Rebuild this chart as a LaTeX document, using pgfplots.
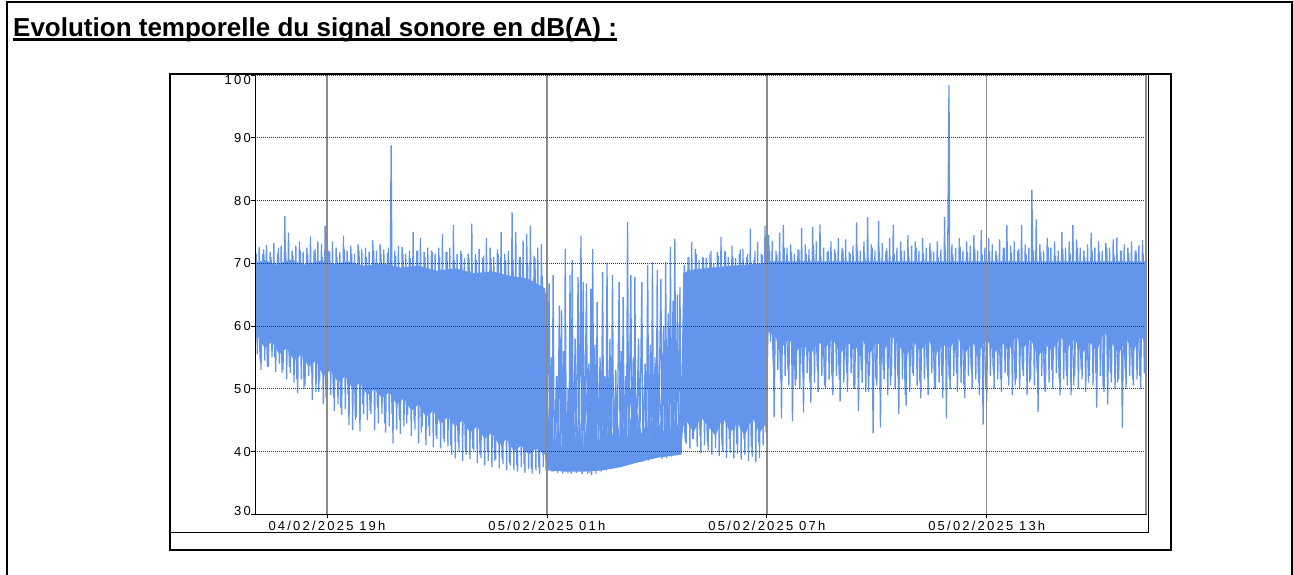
\documentclass[border=0pt]{standalone}
\usepackage{pgfplots}
\pgfplotsset{compat=1.18}
\usepackage{fontspec}
\setmainfont{Liberation Sans}
\newfontfamily\tickfont[LetterSpace=17]{Liberation Sans}
\definecolor{sig}{RGB}{100,149,237}
\definecolor{vgrid}{RGB}{140,140,140}
\begin{document}
\begin{tikzpicture}[x=1pt,y=1pt]
\useasboundingbox (0,0) rectangle (1293,575);
\draw[line width=2pt] (7,-3) -- (7,573) -- (1292,573) -- (1292,-3);
\node[anchor=base west, inner sep=0pt, font=\bfseries\fontsize{26}{30}\selectfont] (T) at (13,538.3) {Evolution temporelle du signal sonore en dB(A) :};
\draw[line width=3pt] ([yshift=-3.3pt]T.base west) -- ([yshift=-3.3pt]T.base east);
\draw[line width=2pt] (170,25) rectangle (1171,501);
\draw[line width=0.9pt] (170,42.7) -- (1148.5,42.7) -- (1148.5,501);
\begin{axis}[
  at={(255pt,60.7pt)}, anchor=south west,
  width=891pt, height=439.3pt, scale only axis,
  xmin=17.036, xmax=41.345, ymin=30, ymax=100,
  axis on top,
  axis line style={black, line width=1pt},
  xtick={19,25,31,37},
  xticklabels={04/02/2025 19h,05/02/2025 01h,05/02/2025 07h,05/02/2025 13h},
  ytick={30,40,50,60,70,80,90,100},
  yticklabels={\raisebox{3.7pt}{30},40,50,60,70,80,90,\raisebox{-5.3pt}{100}},
  /pgf/number format/assume math mode=true,
  tick pos=left, tick align=outside, major tick length=4pt,
  tick style={black, line width=0.8pt},
  xmajorgrids, ymajorgrids,
  x grid style={vgrid, line width=1.4pt},
  y grid style={black!80, line width=0.7pt, dash pattern=on 1pt off 1pt},
  ticklabel style={font=\tickfont\fontsize{13}{15}\selectfont},
  yticklabel style={anchor=east, inner sep=0pt, text height=9.3pt, text depth=0pt},
  xticklabel style={anchor=base, inner sep=0pt, yshift=-12.5pt},
]
% dense core of the signal (upper edge left to right, lower edge right to left)
\addplot[draw=none, fill=sig] coordinates {
(17.036,70)(17.3,70.5)(17.6,69.8)(18,70.5)(18.4,69.8)(18.8,70.4)(19.2,69.9)(19.6,70.3)(20,69.6)(20.5,70)(21,69.3)(21.5,69.6)(22,68.8)(22.5,69.2)(23,68.4)(23.5,68.7)(24,68)(24.5,67.5)(24.95,66)
(25.0,43)(25.1,46)(25.2,41)(25.3,44)(25.4,40.5)(25.5,45)(25.6,42)(25.7,47)(25.8,41.5)(25.9,44.5)(26.0,40.5)(26.1,45.5)(26.2,42)(26.3,46)(26.4,41)(26.5,44)(26.6,40.5)(26.7,45)(26.8,42.5)(26.9,46.5)(27.0,41.5)(27.1,44)(27.2,42)(27.3,46)(27.4,41.5)(27.5,45)(27.6,42.5)(27.7,44.5)(27.8,41.5)(27.9,46)(28.0,42.5)(28.1,45)(28.2,43)(28.3,47)(28.4,42.5)(28.5,45.5)(28.6,43.5)(28.65,44)
(28.72,68.5)(29,69)(29.5,69.3)(30,69.6)(30.5,69.8)(30.98,70)
(31.02,70.3)(41.345,70.3)
(41.345,57)(41.2,58.5)(41.0,56)(40.8,58)(40.6,55.5)(40.4,57.5)(40.2,59)(40.0,56)(39.8,57.5)(39.6,55.5)(39.4,58)(39.2,56.5)(39.0,58.5)(38.8,56)(38.6,57)(38.4,55)(38.2,58)(38.0,56.5)(37.8,58.5)(37.6,56)(37.4,57.5)(37.2,55.5)(37.0,58)(36.8,56)(36.6,57.5)(36.4,55.5)(36.2,58.5)(36.0,56.5)(35.8,57)(35.6,55.5)(35.4,58)(35.2,56)(35.0,57.5)(34.8,55)(34.6,57)(34.4,58.5)(34.2,56)(34.0,57.5)(33.8,55.5)(33.6,58)(33.4,56)(33.2,57.5)(33.0,55.5)(32.8,58)(32.6,56.5)(32.4,57.5)(32.2,55.5)(32.0,57)(31.8,56)(31.6,58)(31.4,56.5)(31.2,58.5)(31.05,59)(31.02,59)
(30.98,44.5)(30.8,43)(30.6,45.5)(30.4,42.5)(30.2,44.5)(30.0,43)(29.8,45.5)(29.6,42.5)(29.4,44)(29.2,45.5)(29.0,43)(28.8,45)(28.72,44)
(28.65,39.5)(28,39)(27.5,38.3)(27,37.5)(26.5,37)(26,36.8)(25.5,36.8)(25.0,37)
(24.95,39.5)(24.7,40.5)(24.5,39.5)(24.3,41)(24.1,40)(23.9,42)(23.7,41)(23.5,43)(23.3,42)(23.1,44)(22.9,43)(22.7,45)(22.5,44)(22.3,45.5)(22.1,44.5)(21.9,46.5)(21.7,45.5)(21.5,47.5)(21.3,46.5)(21.1,48.5)(20.9,47.5)(20.7,49.5)(20.5,48.5)(20.3,50)(20.1,49)(19.9,51)(19.7,50)(19.5,52)(19.3,51)(19.1,53)(18.9,52)(18.7,54.5)(18.5,53.5)(18.3,55.5)(18.1,54.5)(17.9,56.5)(17.7,55.5)(17.5,57.5)(17.3,56.5)(17.1,58.5)(17.036,57.5)
} -- cycle;
% secondary samples
\addplot[sig, line width=1.1pt, line join=bevel, no marks] coordinates {
(17.075,71.5)(17.175,54.5)(17.275,72.2)(17.375,53.5)(17.475,71.0)(17.575,55.0)(17.675,72.5)(17.775,52.5)(17.875,71.8)(17.975,53.5)
(18.075,71.2)(18.175,51.5)(18.275,72.0)(18.375,50.0)(18.475,71.5)(18.575,52.5)(18.675,72.3)(18.775,49.5)(18.875,71.0)(18.975,48.5)
(19.075,71.8)(19.175,48.5)(19.275,71.0)(19.375,47.0)(19.475,72.2)(19.575,49.0)(19.675,71.5)(19.775,45.0)(19.875,72.0)(19.975,47.5)
(20.075,71.0)(20.175,46.5)(20.275,72.0)(20.375,47.0)(20.475,71.5)(20.575,44.5)(20.675,72.5)(20.775,46.0)(20.875,71.2)(20.975,45.0)
(21.075,71.5)(21.175,44.5)(21.275,70.8)(21.375,45.0)(21.475,72.0)(21.575,43.0)(21.675,71.0)(21.775,44.0)(21.875,71.8)(21.975,42.5)
(22.075,71.0)(22.175,42.0)(22.275,71.8)(22.375,41.0)(22.475,70.5)(22.575,41.5)(22.675,71.5)(22.775,40.0)(22.875,70.8)(22.975,40.5)
(23.075,70.5)(23.175,39.5)(23.275,71.2)(23.375,40.0)(23.475,70.8)(23.575,38.5)(23.675,71.5)(23.775,39.0)(23.875,70.5)(23.975,38.2)
(24.075,70.5)(24.175,37.8)(24.275,71.0)(24.375,38.0)(24.475,70.0)(24.575,37.2)(24.675,70.8)(24.775,37.5)(24.875,68.0)(24.975,37.0)
(25.075,48)(25.175,36.8)(25.275,52)(25.375,37.0)(25.475,46)(25.575,36.6)(25.675,50)(25.775,37.2)(25.875,47)(25.975,36.8)
(26.075,49)(26.175,36.6)(26.275,46)(26.375,37.0)(26.475,51)(26.575,37.2)(26.675,47)(26.775,37.4)(26.875,50)(26.975,37.6)
(27.075,47)(27.175,37.8)(27.275,50)(27.375,38.2)(27.475,46)(27.575,38.4)(27.675,52)(27.775,38.6)(27.875,48)(27.975,39.0)
(28.075,49)(28.175,39.2)(28.275,51)(28.375,39.4)(28.475,48)(28.575,39.8)(28.675,52)(28.775,41.5)(28.875,71.0)(28.975,42.0)
(29.075,71.5)(29.175,42.5)(29.275,70.8)(29.375,41.5)(29.475,72.0)(29.575,42.8)(29.675,71.2)(29.775,41.0)(29.875,71.8)(29.975,42.0)
(30.075,71.0)(30.175,41.2)(30.275,72.2)(30.375,42.0)(30.475,71.5)(30.575,40.8)(30.675,72.0)(30.775,41.5)(30.875,71.3)(30.975,43.0)
(31.075,72.0)(31.175,54.0)(31.275,71.5)(31.375,51.5)(31.475,72.5)(31.575,53.0)(31.675,71.8)(31.775,50.5)(31.875,72.2)(31.975,52.5)
(32.075,71.5)(32.175,51.0)(32.275,72.8)(32.375,53.5)(32.475,71.2)(32.575,50.5)(32.675,72.0)(32.775,52.0)(32.875,71.6)(32.975,51.5)
(33.075,72.3)(33.175,52.5)(33.275,71.5)(33.375,50.0)(33.475,72.0)(33.575,53.0)(33.675,71.0)(33.775,49.5)(33.875,72.5)(33.975,51.5)
(34.075,71.8)(34.175,53.0)(34.275,72.4)(34.375,50.5)(34.475,71.5)(34.575,52.0)(34.675,72.0)(34.775,49.0)(34.875,71.2)(34.975,52.5)
(35.075,72.5)(35.175,51.0)(35.275,71.6)(35.375,53.0)(35.475,72.2)(35.575,50.0)(35.675,71.0)(35.775,52.0)(35.875,72.0)(35.975,51.5)
(36.075,71.5)(36.175,52.5)(36.275,72.6)(36.375,50.5)(36.475,71.8)(36.575,53.0)(36.675,72.2)(36.775,51.0)(36.875,71.4)(36.975,50.0)
(37.075,72.0)(37.175,53.0)(37.275,71.3)(37.375,51.5)(37.475,72.5)(37.575,52.0)(37.675,71.7)(37.775,50.5)(37.875,72.3)(37.975,53.0)
(38.075,71.5)(38.175,51.0)(38.275,72.0)(38.375,52.5)(38.475,71.8)(38.575,50.0)(38.675,72.6)(38.775,53.0)(38.875,71.2)(38.975,51.5)
(39.075,72.2)(39.175,52.0)(39.275,71.6)(39.375,50.5)(39.475,72.4)(39.575,53.0)(39.675,71.0)(39.775,51.0)(39.875,72.0)(39.975,52.5)
(40.075,71.8)(40.175,50.0)(40.275,72.5)(40.375,52.5)(40.475,71.4)(40.575,51.0)(40.675,72.0)(40.775,53.0)(40.875,71.6)(40.975,51.5)
(41.075,72.0)(41.175,52.0)(41.275,71.5)
};
% primary samples
\addplot[sig, line width=1.3pt, line join=bevel, no marks] coordinates {
(17.05,72.0)(17.10,55.5)(17.15,72.6)(17.20,53.0)(17.25,71.5)(17.30,54.5)(17.35,72.9)(17.40,53.5)(17.45,71.8)(17.50,55.0)(17.55,73.2)(17.60,52.7)(17.65,71.5)(17.70,54.0)(17.75,72.8)(17.80,53.0)(17.85,77.5)(17.90,51.5)(17.95,74.9)(18.00,52.5)
(18.05,72.0)(18.10,51.0)(18.15,72.8)(18.20,49.3)(18.25,73.5)(18.30,51.5)(18.35,71.8)(18.40,50.5)(18.45,72.5)(18.50,52.0)(18.55,74.3)(18.60,48.2)(18.65,72.0)(18.70,49.5)(18.75,73.5)(18.80,51.3)(18.85,73.1)(18.90,47.5)(18.95,76.0)(19.00,44.2)
(19.05,72.0)(19.10,49.0)(19.15,73.5)(19.20,46.5)(19.25,72.5)(19.30,47.5)(19.35,71.8)(19.40,45.9)(19.45,74.4)(19.50,46.8)(19.55,72.0)(19.60,44.2)(19.65,72.8)(19.70,43.4)(19.75,71.5)(19.80,45.5)(19.85,73.0)(19.90,43.2)(19.95,72.2)(20.00,46.0)
(20.05,72.5)(20.10,45.0)(20.15,71.8)(20.20,46.0)(20.25,73.7)(20.30,43.4)(20.35,72.0)(20.40,44.5)(20.45,73.0)(20.50,46.0)(20.55,72.2)(20.60,43.0)(20.65,71.6)(20.70,44.0)(20.75,88.8)(20.80,41.3)(20.85,72.0)(20.90,43.5)(20.95,72.8)(21.00,42.8)
(21.05,72.6)(21.10,44.0)(21.15,71.5)(21.20,45.8)(21.25,72.0)(21.30,42.5)(21.35,75.0)(21.40,43.5)(21.45,72.0)(21.50,41.3)(21.55,74.0)(21.60,44.0)(21.65,71.8)(21.70,41.0)(21.75,72.5)(21.80,42.5)(21.85,72.0)(21.90,40.7)(21.95,71.5)(22.00,42.0)
(22.05,72.5)(22.10,40.5)(22.15,74.7)(22.20,41.5)(22.25,71.8)(22.30,40.8)(22.35,72.5)(22.40,39.5)(22.45,76.1)(22.50,38.9)(22.55,71.5)(22.60,40.0)(22.65,72.0)(22.70,38.5)(22.75,70.8)(22.80,39.5)(22.85,71.5)(22.90,38.8)(22.95,76.3)(23.00,40.2)
(23.05,71.5)(23.10,38.2)(23.15,72.3)(23.20,39.0)(23.25,70.8)(23.30,37.8)(23.35,74.0)(23.40,38.5)(23.45,72.5)(23.50,37.5)(23.55,71.0)(23.60,38.8)(23.65,72.2)(23.70,37.3)(23.75,75.0)(23.80,38.0)(23.85,71.5)(23.90,37.0)(23.95,72.0)(24.00,37.8)
(24.05,78.1)(24.10,37.0)(24.15,75.0)(24.20,36.8)(24.25,71.0)(24.30,37.5)(24.35,73.6)(24.40,36.6)(24.45,74.7)(24.50,37.2)(24.55,76.0)(24.60,36.5)(24.65,71.2)(24.70,37.0)(24.75,72.5)(24.80,36.4)(24.85,73.1)(24.90,37.5)(24.95,65.4)(25.00,36.6)
(25.06,66.8)(25.09,37.2)(25.12,55)(25.14,36.8)(25.17,68.1)(25.20,37.0)(25.26,52)(25.29,36.6)(25.34,63.3)(25.37,37.5)(25.40,62.5)(25.43,36.5)(25.46,56)(25.48,37)(25.50,72.3)(25.53,36.8)(25.58,50)(25.60,37.2)(25.63,68.1)(25.66,36.5)(25.69,70.5)(25.72,37.4)(25.77,58)(25.80,36.6)(25.85,67.8)(25.88,37.0)(25.93,74.4)(25.96,36.4)(25.99,67.0)(26.02,37.2)
(26.08,66.8)(26.11,36.5)(26.14,54)(26.17,37.0)(26.20,65.9)(26.22,36.3)(26.25,72.3)(26.28,37.0)(26.31,57)(26.34,36.5)(26.37,63.8)(26.40,37.3)(26.45,55)(26.48,36.8)(26.52,68.6)(26.55,37.5)(26.58,52)(26.61,37)(26.64,70.1)(26.67,37.6)(26.72,58)(26.75,37.2)(26.79,68.1)(26.82,37.8)(26.88,53)(26.91,37.5)(26.97,67.0)(27.00,38.0)
(27.03,56)(27.05,37.6)(27.08,64.6)(27.11,38.2)(27.15,52)(27.17,38.0)(27.20,76.6)(27.23,38.4)(27.29,68.1)(27.32,38.0)(27.36,55)(27.38,38.6)(27.40,67.8)(27.43,38.2)(27.50,58)(27.53,38.8)(27.59,67.0)(27.62,38.4)(27.68,54)(27.71,39.0)(27.75,69.7)(27.78,38.6)(27.82,57)(27.85,39.2)(27.88,70.2)(27.91,38.8)(27.95,55)(27.98,39.0)
(28.01,68.9)(28.04,39.4)(28.11,67.5)(28.14,38.8)(28.18,60)(28.21,39.5)(28.24,70.2)(28.27,39.0)(28.31,62)(28.34,39.6)(28.37,72.6)(28.40,39.2)(28.44,64)(28.46,39.8)(28.49,73.9)(28.52,39.4)(28.56,65)(28.59,40.0)(28.63,66.2)(28.66,39.5)
(28.75,69.7)(28.80,41.2)(28.85,71.0)(28.90,40.5)(28.95,73.4)(29.00,42.0)(29.05,72.3)(29.10,40.8)(29.15,70.5)(29.20,39.8)(29.25,71.0)(29.30,41.0)(29.35,70.8)(29.40,40.2)(29.45,71.5)(29.50,39.5)(29.55,70.0)(29.60,40.5)(29.65,71.8)(29.70,39.3)(29.75,74.2)(29.80,40.0)(29.85,72.0)(29.90,39.0)(29.95,71.0)(30.00,39.8)
(30.05,72.8)(30.10,38.9)(30.15,70.8)(30.20,39.6)(30.25,71.5)(30.30,38.7)(30.35,72.3)(30.40,39.5)(30.45,71.0)(30.50,38.5)(30.55,75.5)(30.60,39.2)(30.65,70.5)(30.70,38.3)(30.75,73.4)(30.80,39.0)(30.85,71.5)(30.90,41.0)(30.95,76.0)(31.00,47.0)
(31.05,74.5)(31.10,57.5)(31.15,73.6)(31.20,45.5)(31.25,72.0)(31.30,53.0)(31.35,74.9)(31.40,45.3)(31.45,76.1)(31.50,52.0)(31.55,72.5)(31.60,50.5)(31.65,73.0)(31.70,44.8)(31.75,71.5)(31.80,51.5)(31.85,72.2)(31.90,50.0)(31.95,75.6)(32.00,46.2)
(32.05,73.0)(32.10,52.5)(32.15,72.2)(32.20,47.8)(32.25,75.8)(32.30,51.0)(32.35,73.5)(32.40,49.5)(32.45,76.2)(32.50,52.0)(32.55,72.5)(32.60,50.0)(32.65,71.8)(32.70,51.5)(32.75,73.5)(32.80,49.0)(32.85,72.2)(32.90,52.0)(32.95,74.0)(33.00,48.0)
(33.05,72.5)(33.10,51.0)(33.15,73.8)(33.20,49.5)(33.25,71.8)(33.30,52.5)(33.35,72.8)(33.40,50.0)(33.45,76.5)(33.50,46.5)(33.55,72.0)(33.60,51.0)(33.65,73.5)(33.70,49.5)(33.75,77.3)(33.80,52.0)(33.85,73.0)(33.90,42.9)(33.95,72.0)(34.00,50.5)
(34.05,76.7)(34.10,43.8)(34.15,73.2)(34.20,51.5)(34.25,72.0)(34.30,49.0)(34.35,74.0)(34.40,52.0)(34.45,76.1)(34.50,50.0)(34.55,72.5)(34.60,46.0)(34.65,73.5)(34.70,51.5)(34.75,72.0)(34.80,47.3)(34.85,74.5)(34.90,49.5)(34.95,72.8)(35.00,52.0)
(35.05,73.5)(35.10,50.5)(35.15,72.0)(35.20,48.5)(35.25,74.0)(35.30,51.5)(35.35,72.5)(35.40,49.0)(35.45,73.2)(35.50,52.5)(35.55,71.8)(35.60,50.0)(35.65,73.5)(35.70,51.0)(35.75,72.2)(35.80,48.5)(35.85,77.4)(35.90,45.3)(35.97,98.4)(36.00,50.0)
(36.05,73.0)(36.10,52.0)(36.15,72.5)(36.20,49.5)(36.25,74.0)(36.30,51.0)(36.35,72.0)(36.40,48.5)(36.45,73.5)(36.50,52.0)(36.55,72.8)(36.60,50.0)(36.65,74.5)(36.70,51.5)(36.75,72.0)(36.80,49.0)(36.85,75.3)(36.90,44.3)(36.95,72.5)(37.00,48.0)
(37.05,74.0)(37.10,52.0)(37.15,73.0)(37.20,50.0)(37.25,72.0)(37.30,51.5)(37.35,73.8)(37.40,49.5)(37.45,72.5)(37.50,52.5)(37.55,76.1)(37.60,50.5)(37.65,72.8)(37.70,49.0)(37.75,73.5)(37.80,51.5)(37.85,72.0)(37.90,50.0)(37.95,76.1)(38.00,52.0)
(38.05,73.0)(38.10,49.0)(38.15,72.5)(38.20,51.5)(38.23,81.7)(38.30,50.5)(38.35,77.0)(38.40,46.3)(38.45,73.0)(38.50,52.0)(38.55,72.0)(38.60,49.5)(38.65,74.0)(38.70,51.0)(38.75,72.5)(38.80,50.0)(38.85,73.5)(38.90,52.5)(38.95,72.0)(39.00,49.0)
(39.05,75.0)(39.10,51.5)(39.15,72.5)(39.20,50.5)(39.25,73.5)(39.30,49.0)(39.35,76.1)(39.40,52.0)(39.45,73.8)(39.50,50.0)(39.55,72.5)(39.60,51.5)(39.65,72.0)(39.70,49.5)(39.75,73.0)(39.80,52.0)(39.85,74.9)(39.90,50.5)(39.95,72.5)(40.00,47.0)
(40.05,73.5)(40.10,52.0)(40.15,72.0)(40.20,49.5)(40.25,73.2)(40.30,47.5)(40.35,72.5)(40.40,51.0)(40.45,73.8)(40.50,50.0)(40.55,74.1)(40.60,51.5)(40.65,72.0)(40.70,43.8)(40.75,73.0)(40.80,50.0)(40.85,72.5)(40.90,52.0)(40.95,73.5)(41.00,50.5)
(41.05,72.0)(41.10,51.5)(41.15,72.8)(41.20,50.0)(41.25,73.7)(41.30,52.5)(41.345,62)
};
\end{axis}
\draw[vgrid, line width=2pt] (1145.7,60.7) -- (1145.7,500);
\end{tikzpicture}
\end{document}
